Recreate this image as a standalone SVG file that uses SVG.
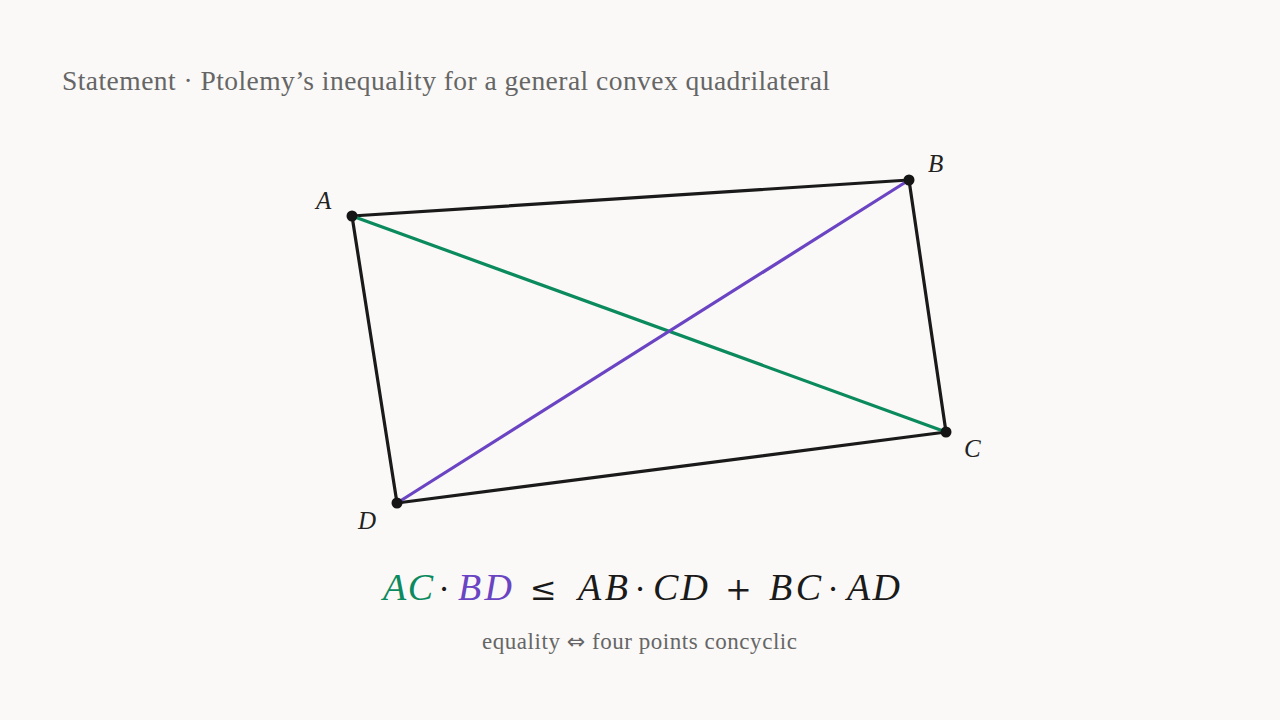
<svg xmlns="http://www.w3.org/2000/svg" width="1280" height="720" viewBox="0 0 1280 720">
<style>
.t{font-family:"Liberation Serif","DejaVu Serif",serif;}
.title{font-size:27.5px;fill:#666;}
.lbl{font-size:25px;font-style:italic;fill:#222;}
.eq{font-size:38px;font-style:italic;fill:#1a1a1a;}
.op{font-style:normal;font-family:"DejaVu Serif",serif;font-size:32px;}
.sub{font-size:23px;fill:#666;}
.edge{stroke:#1a1a1a;stroke-width:3.2;fill:none;stroke-linecap:round;stroke-linejoin:round;}
.ac{stroke:#0b8a5e;stroke-width:3.2;fill:none;}
.bd{stroke:#6a44c2;stroke-width:3.2;fill:none;}
.dot{fill:#151515;}
</style>
<rect width="1280" height="720" fill="#faf9f7"/>
<text class="t title" x="62" y="90" textLength="768">Statement · Ptolemy’s inequality for a general convex quadrilateral</text>
<g id="connectors">
<path class="edge" d="M352,216 L909,180 L946,432 L397,503 Z"/>
<line class="ac" x1="352" y1="216" x2="946" y2="432"/>
<line class="bd" x1="909" y1="180" x2="397" y2="503"/>
</g>
<g id="A"><circle class="dot" cx="352" cy="216" r="5.5"/><text class="t lbl" x="316" y="209">A</text></g>
<g id="B"><circle class="dot" cx="909" cy="180" r="5.5"/><text class="t lbl" x="928" y="172">B</text></g>
<g id="C"><circle class="dot" cx="946" cy="432" r="5.5"/><text class="t lbl" x="964" y="457">C</text></g>
<g id="D"><circle class="dot" cx="397" cy="503" r="5.5"/><text class="t lbl" x="358" y="529">D</text></g>
<g id="equation" class="t eq">
<text x="383" y="600" fill="#0b8a5e" textLength="50">AC</text>
<text x="439" y="600" class="op">·</text>
<text x="458" y="600" fill="#6a44c2" textLength="54">BD</text>
<text x="530" y="600" class="op">≤</text>
<text x="578" y="600" textLength="50">AB</text>
<text x="635" y="600" class="op">·</text>
<text x="653" y="600" textLength="55">CD</text>
<text x="725" y="600" class="op">+</text>
<text x="769" y="600" textLength="52">BC</text>
<text x="828" y="600" class="op">·</text>
<text x="847" y="600" textLength="53">AD</text>
</g>
<text class="t sub" x="482" y="649" textLength="315">equality <tspan font-family="DejaVu Sans,sans-serif" font-size="22">⇔</tspan> four points concyclic</text>
</svg>
